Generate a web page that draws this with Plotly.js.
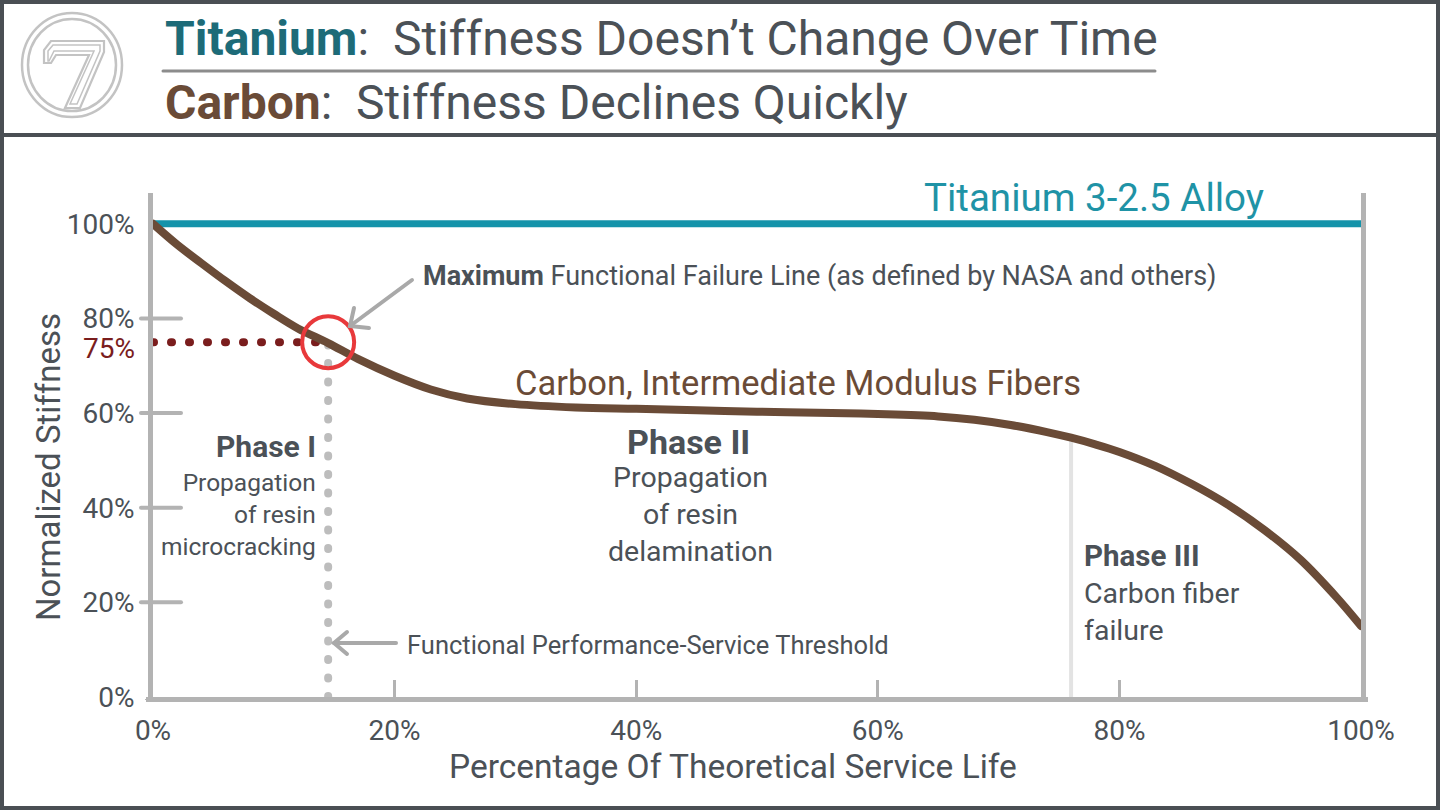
<!DOCTYPE html>
<html>
<head>
<meta charset="utf-8">
<script src="https://cdn.plot.ly/plotly-3.0.1.min.js"></script>
<style>
  html, body { margin: 0; padding: 0; background: #ffffff; }
  #chart { width: 1440px; height: 810px; }
  .main-svg path { stroke-linecap: round; }
</style>
</head>
<body>
<div id="chart"></div>
<script>
// ---- data ----
const lifePct = [0, 2, 4, 6, 8, 10, 12, 14.5, 17, 20, 23, 26, 30, 35, 40, 45, 50, 55, 60, 65, 68, 71, 74, 76, 78, 80, 83, 86, 89, 92, 95, 98, 100];
const carbonStiffness = [100, 95.6, 91.7, 87.9, 84.3, 81.0, 77.9, 74.8, 71.4, 67.9, 65.0, 63.1, 61.9, 61.2, 60.9, 60.6, 60.3, 60.1, 59.8, 59.3, 58.6, 57.5, 56.0, 54.8, 53.4, 51.8, 48.8, 45.0, 40.6, 35.3, 29.0, 21.0, 15.0];
const titaniumLife = [0, 100];
const titaniumStiffness = [100, 100];

const failureStiffness = 75;      // maximum functional failure line
const thresholdLife = 14.5;       // functional performance-service threshold
const phaseIIIStart = 76;         // start of carbon fiber failure
const phaseIIIStartStiffness = 54.8;

const xTickVals = [0, 20, 40, 60, 80, 100];
const xTickText = ['0%', '20%', '40%', '60%', '80%', '100%'];
const yTickVals = [0, 20, 40, 60, 80, 100];
const yTickText = ['0%', '20%', '40%', '60%', '80%', '100%'];
const yCrossTicks = [20, 40, 60, 80];
const failureLabel = '75%';

const phaseINotes = ['Propagation', 'of resin', 'microcracking'];
const phaseIINotes = ['Propagation', 'of resin', 'delamination'];
const phaseIIINotes = ['Carbon fiber', 'failure'];

// ---- look ----
const W = 1440, H = 810;
const L = 153, R = 1361, T = 195, B = 697;
const px = x => (x - L) / (R - L);
const py = y => (B - y) / (B - T);

const FONT = 'Roboto, "Liberation Sans", sans-serif';
const TEXT = '#4b5157';
const TEAL = '#1493aa';
const TEAL_TEXT = '#1f93a6';
const TEAL_DARK = '#1d6b78';
const BROWN = '#6a4b37';
const AXIS = '#b3b3b3';
const ARROW = '#a9a9a9';
const DARK_RED = '#7a1d1d';

function pixelPath(points, close) {
  let d = points.map((p, i) => (i ? 'L' : 'M') + px(p[0]).toFixed(5) + ',' + py(p[1]).toFixed(5)).join(' ');
  return close ? d + ' Z' : d;
}

const traces = [
  {
    x: titaniumLife, y: titaniumStiffness, type: 'scatter', mode: 'lines',
    line: { color: TEAL, width: 7 }, hoverinfo: 'skip', showlegend: false
  },
  {
    x: lifePct, y: carbonStiffness, type: 'scatter', mode: 'lines',
    line: { color: BROWN, width: 8, shape: 'spline', smoothing: 1 }, hoverinfo: 'skip', showlegend: false
  }
];

const shapes = [];
// frame around the graphic
shapes.push({ type: 'rect', xref: 'paper', yref: 'paper', x0: px(2), x1: px(W - 2), y0: py(2), y1: py(H - 2),
  line: { color: '#4a4f54', width: 4 }, layer: 'above' });
// header divider
shapes.push({ type: 'line', xref: 'paper', yref: 'paper', x0: px(0), x1: px(W), y0: py(135), y1: py(135),
  line: { color: '#4a4f54', width: 4 } });
// rule between the two headline rows
shapes.push({ type: 'line', xref: 'paper', yref: 'paper', x0: px(163), x1: px(1155), y0: py(71), y1: py(71),
  line: { color: '#8c8c8c', width: 3 } });
// logo rings
[50, 44].forEach(r => shapes.push({ type: 'circle', xref: 'paper', yref: 'paper',
  xsizemode: 'pixel', ysizemode: 'pixel', xanchor: px(72), yanchor: py(65),
  x0: -r, x1: r, y0: -r - 2, y1: r + 2, line: { color: '#c3c3c3', width: 2.5 } }));
// logo numeral
shapes.push({ type: 'path', xref: 'paper', yref: 'paper',
  path: pixelPath([[44, 63], [44, 50], [51, 41], [104, 41], [104, 52], [80, 108], [65, 108], [89, 55], [56, 55], [51, 63]], true),
  line: { color: '#c3c3c3', width: 2.2 } });
shapes.push({ type: 'path', xref: 'paper', yref: 'paper',
  path: pixelPath([[48, 61], [48, 51], [53, 45], [100, 45], [100, 51], [77, 104], [70, 104], [94, 51], [54, 51], [49, 61]], true),
  line: { color: '#c3c3c3', width: 1.5 } });

// crossing y ticks
yCrossTicks.forEach(v => shapes.push({ type: 'line', xref: 'paper', yref: 'y', x0: px(141), x1: px(181), y0: v, y1: v,
  line: { color: AXIS, width: 4 }, layer: 'below' }));

// start of phase III
shapes.push({ type: 'line', xref: 'x', yref: 'y', x0: phaseIIIStart, x1: phaseIIIStart, y0: 0, y1: phaseIIIStartStiffness,
  line: { color: '#e3e3e3', width: 4 }, layer: 'below' });
// service threshold (dotted)
shapes.push({ type: 'line', xref: 'x', yref: 'y', x0: thresholdLife, x1: thresholdLife, y0: 0, y1: failureStiffness,
  line: { color: '#bdbdbd', width: 8, dash: '1px,17.5px' }, layer: 'below' });
// failure level (dotted)
shapes.push({ type: 'line', xref: 'x', yref: 'y', x0: 0, x1: thresholdLife, y0: failureStiffness, y1: failureStiffness,
  line: { color: DARK_RED, width: 8, dash: '1px,17px' }, layer: 'below' });
// failure point ring
shapes.push({ type: 'circle', xref: 'x', yref: 'y', xsizemode: 'pixel', ysizemode: 'pixel',
  xanchor: thresholdLife, yanchor: failureStiffness, x0: -26, x1: 26, y0: -26, y1: 26,
  line: { color: '#e8393b', width: 4 }, layer: 'above' });

// arrows
const arrowStyle = { color: ARROW, width: 4 };
shapes.push({ type: 'path', xref: 'paper', yref: 'paper', line: arrowStyle,
  path: pixelPath([[412, 280], [350, 326]]) });
shapes.push({ type: 'path', xref: 'paper', yref: 'paper', line: arrowStyle,
  path: pixelPath([[354, 308], [350, 326], [369, 328]]) });
shapes.push({ type: 'path', xref: 'paper', yref: 'paper', line: arrowStyle,
  path: pixelPath([[396, 643], [334, 643]]) });
shapes.push({ type: 'path', xref: 'paper', yref: 'paper', line: arrowStyle,
  path: pixelPath([[347, 632], [334, 643], [347, 654]]) });

function note(text, x, y, opts) {
  return Object.assign({
    text: text, xref: 'paper', yref: 'paper', x: px(x), y: py(y),
    xanchor: 'left', yanchor: 'middle', showarrow: false,
    font: { family: FONT, size: 22, color: TEXT }
  }, opts || {});
}

const annotations = [
  note('<b><span style="color:' + TEAL_DARK + '">Titanium</span></b>:\u00a0 Stiffness Doesn\u2019t Change Over Time', 163, 38,
    { font: { family: FONT, size: 48, color: TEXT } }),
  note('<b><span style="color:' + BROWN + '">Carbon</span></b>:\u00a0 Stiffness Declines Quickly', 163, 103,
    { font: { family: FONT, size: 48, color: TEXT } }),

  note('Titanium 3-2.5 Alloy', 1094, 197, { xanchor: 'center', font: { family: FONT, size: 38.5, color: TEAL_TEXT } }),
  note('<b>Maximum</b> Functional Failure Line (as defined by NASA and others)', 421, 276, { font: { family: FONT, size: 27, color: TEXT } }),
  note('Carbon, Intermediate Modulus Fibers', 513, 383, { font: { family: FONT, size: 34.5, color: BROWN } }),
  note('Functional Performance-Service Threshold', 405, 645, { font: { family: FONT, size: 25.5, color: TEXT } }),

  note('<b>Phase I</b>', 318, 446, { xanchor: 'right', font: { family: FONT, size: 30, color: TEXT } }),
  note(phaseINotes.join('<br>'), 318, 514, { xanchor: 'right', align: 'right', font: { family: FONT, size: 24.5, color: TEXT } }),

  note('<b>Phase II</b>', 688, 442, { xanchor: 'center', font: { family: FONT, size: 34, color: TEXT } }),
  note(phaseIINotes.join('<br>'), 690, 514, { xanchor: 'center', align: 'center', font: { family: FONT, size: 28.5, color: TEXT } }),

  note('<b>Phase III</b>', 1082, 556, { font: { family: FONT, size: 29.5, color: TEXT } }),
  note(phaseIIINotes.join('<br>'), 1082, 612, { align: 'left', font: { family: FONT, size: 28.5, color: TEXT } }),

  // label of the failure level, on the y axis
  { text: failureLabel, xref: 'paper', yref: 'y', x: px(137), y: failureStiffness, yshift: -6,
    xanchor: 'right', yanchor: 'middle', showarrow: false,
    font: { family: FONT, size: 28, color: DARK_RED } },

  note('Percentage Of Theoretical Service Life', 733, 767, { xanchor: 'center', font: { family: FONT, size: 33.5, color: TEXT } }),
  note('Normalized Stiffness', 48, 467, { xanchor: 'center', textangle: -90, font: { family: FONT, size: 33, color: TEXT } })
];

const layout = {
  width: W, height: H,
  margin: { l: L, r: W - R, t: T, b: H - B, pad: 0 },
  paper_bgcolor: '#ffffff', plot_bgcolor: '#ffffff',
  showlegend: false,
  xaxis: {
    range: [0, 100], tickvals: xTickVals, ticktext: xTickText,
    showgrid: false, zeroline: false,
    showline: true, linecolor: AXIS, linewidth: 5,
    ticks: 'inside', ticklen: 16, tickwidth: 3, tickcolor: AXIS,
    tickfont: { family: FONT, size: 28, color: TEXT }, ticklabelstandoff: 4
  },
  yaxis: {
    range: [0, 106.1], tickvals: yTickVals, ticktext: yTickText,
    showgrid: false, zeroline: false,
    showline: true, mirror: true, linecolor: AXIS, linewidth: 5,
    ticks: '', tickfont: { family: FONT, size: 28, color: TEXT }, ticklabelstandoff: 8
  },
  shapes: shapes,
  annotations: annotations
};

Plotly.newPlot('chart', traces, layout, { displayModeBar: false, staticPlot: true });
</script>
</body>
</html>
